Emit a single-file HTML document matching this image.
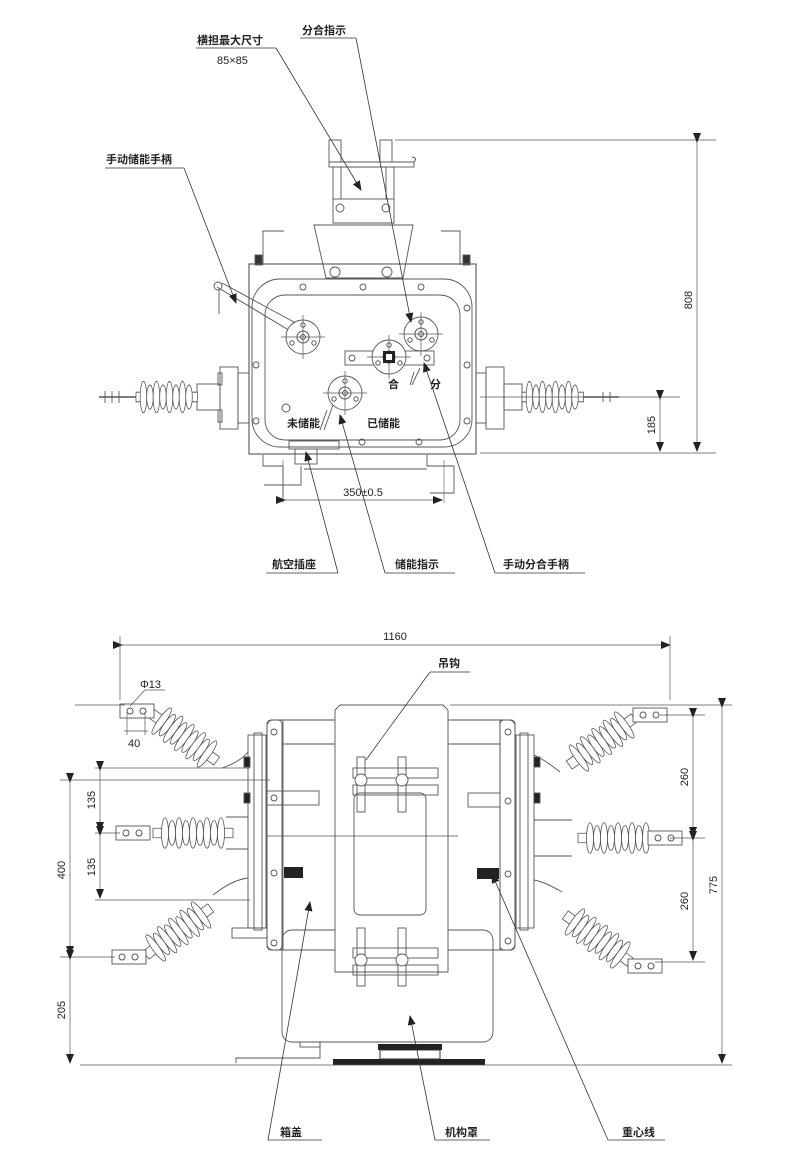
<!DOCTYPE html>
<html><head><meta charset="utf-8"><style>
html,body{margin:0;padding:0;background:#fff;}
svg{display:block;}
text{font-family:"Liberation Sans","Noto Sans CJK SC",sans-serif;fill:#222;font-size:11px;}
.cj{font-weight:bold;font-size:11px;}
</style></head><body>
<svg width="800" height="1163" viewBox="0 0 800 1163" xmlns="http://www.w3.org/2000/svg">
<defs>
<marker id="ar" markerWidth="10" markerHeight="8" refX="9" refY="4" orient="auto" markerUnits="userSpaceOnUse"><path d="M0,0 L10,4 L0,8z" fill="#222"/></marker>
<g id="ins">
<rect x="0" y="-4" width="66" height="8" fill="#fff" stroke="#555" stroke-width="0.8"/>
<ellipse cx="8" cy="0" rx="3.5" ry="13" fill="#fff" stroke="#555" stroke-width="0.8"/>
<ellipse cx="15" cy="0" rx="3.5" ry="10" fill="#fff" stroke="#555" stroke-width="0.8"/>
<ellipse cx="22" cy="0" rx="3.5" ry="13" fill="#fff" stroke="#555" stroke-width="0.8"/>
<ellipse cx="29" cy="0" rx="3.5" ry="10" fill="#fff" stroke="#555" stroke-width="0.8"/>
<ellipse cx="36" cy="0" rx="3.5" ry="13" fill="#fff" stroke="#555" stroke-width="0.8"/>
<ellipse cx="43" cy="0" rx="3.5" ry="10" fill="#fff" stroke="#555" stroke-width="0.8"/>
<ellipse cx="50" cy="0" rx="3.5" ry="13" fill="#fff" stroke="#555" stroke-width="0.8"/>
<ellipse cx="57" cy="0" rx="3.5" ry="10" fill="#fff" stroke="#555" stroke-width="0.8"/>
</g>
<g id="dins">
<rect x="0" y="-5" width="80" height="10" fill="#fff" stroke="#555" stroke-width="0.8"/>
<ellipse cx="12" cy="0" rx="3.5" ry="16" fill="#fff" stroke="#555" stroke-width="0.8"/>
<ellipse cx="19" cy="0" rx="3.5" ry="13" fill="#fff" stroke="#555" stroke-width="0.8"/>
<ellipse cx="26" cy="0" rx="3.5" ry="16" fill="#fff" stroke="#555" stroke-width="0.8"/>
<ellipse cx="33" cy="0" rx="3.5" ry="13" fill="#fff" stroke="#555" stroke-width="0.8"/>
<ellipse cx="40" cy="0" rx="3.5" ry="16" fill="#fff" stroke="#555" stroke-width="0.8"/>
<ellipse cx="47" cy="0" rx="3.5" ry="13" fill="#fff" stroke="#555" stroke-width="0.8"/>
<ellipse cx="54" cy="0" rx="3.5" ry="16" fill="#fff" stroke="#555" stroke-width="0.8"/>
<ellipse cx="61" cy="0" rx="3.5" ry="13" fill="#fff" stroke="#555" stroke-width="0.8"/>
<ellipse cx="68" cy="0" rx="3.5" ry="16" fill="#fff" stroke="#555" stroke-width="0.8"/>
</g>
<g id="term"><rect x="0" y="-7" width="34" height="14" fill="#fff" stroke="#555" stroke-width="0.9"/><circle cx="10" cy="0" r="3" fill="none" stroke="#555"/><circle cx="23" cy="0" r="3" fill="none" stroke="#555"/></g>
<g id="knob"><circle r="17" fill="#fff" stroke="#555" stroke-width="0.9"/><circle r="6" fill="none" stroke="#555"/><circle r="2.5" fill="none" stroke="#555"/><circle cx="0" cy="-12" r="2.2" fill="none" stroke="#555"/><circle cx="-11" cy="6" r="2.2" fill="none" stroke="#555"/><circle cx="11" cy="6" r="2.2" fill="none" stroke="#555"/><line x1="-22" y1="0" x2="22" y2="0" stroke="#555" stroke-width="0.7"/><line x1="0" y1="-22" x2="0" y2="22" stroke="#555" stroke-width="0.7"/></g>
</defs>

<g fill="none" stroke="#555" stroke-width="0.9">
<rect x="329" y="140" width="12" height="22"/><rect x="380" y="140" width="12" height="22"/>
<path d="M329,162 L414,162 Q418,158 412,157"/><rect x="329" y="162" width="85" height="5"/>
<rect x="333" y="167" width="61" height="32"/>
<line x1="341" y1="167" x2="341" y2="199"/><line x1="386" y1="167" x2="386" y2="199"/>
<circle cx="340" cy="208" r="4"/><circle cx="386" cy="208" r="4"/>
<path d="M333,199 L333,223 L394,223 L394,199"/>
<path d="M314,225 L413,225 L403,278 L326,278 Z"/>
<circle cx="335" cy="272" r="5"/><circle cx="387" cy="272" r="5"/>
<path d="M263,265 L263,231 L284,231"/><path d="M460,265 L460,231 L441,231"/>
<rect x="255" y="255" width="7" height="10" fill="#333"/><rect x="463" y="255" width="7" height="10" fill="#333"/>
<rect x="249" y="264" width="227" height="190" stroke-width="1.1"/>
<rect x="252" y="279" width="220" height="168" rx="28"/>
<rect x="265" y="295" width="195" height="145" rx="20"/>
<circle cx="303" cy="287" r="3"/><circle cx="363" cy="287" r="3"/><circle cx="421" cy="287" r="3"/>
<circle cx="467" cy="308" r="3"/><circle cx="256" cy="365" r="3"/><circle cx="467" cy="365" r="3"/>
<circle cx="256" cy="421" r="3"/><circle cx="467" cy="421" r="3"/><circle cx="286" cy="408" r="4"/>
<circle cx="362" cy="442" r="3"/><circle cx="419" cy="442" r="3"/>
<path d="M217,287 L297,335 L303,327 L222,283"/><circle cx="218" cy="286" r="4"/><line x1="219" y1="290" x2="219" y2="314"/>
<rect x="345" y="351" width="89" height="14" fill="#fff"/>
<circle cx="352" cy="358" r="3"/><circle cx="427" cy="358" r="3"/>
</g>
<use href="#knob" x="303" y="337"/>
<use href="#knob" x="421" y="334"/>
<use href="#knob" x="389" y="357"/>
<rect x="383" y="351" width="12" height="12" fill="#222"/><rect x="386" y="354" width="6" height="6" fill="#fff"/>
<use href="#knob" x="345" y="393"/>
<g fill="none" stroke="#555" stroke-width="0.9">
<path d="M327,410 L320,430 M333,405 L324,430"/><path d="M414,372 L410,385 M420,368 L412,385"/>
<rect x="220" y="367" width="18" height="62"/><rect x="238" y="373" width="11" height="50"/>
<rect x="218" y="373" width="4" height="12"/><rect x="218" y="410" width="4" height="12"/>
<rect x="197" y="384" width="23" height="26"/>
<line x1="99" y1="397" x2="136" y2="397" stroke-width="1.6"/>
<line x1="105" y1="391" x2="105" y2="403"/><line x1="112" y1="391" x2="112" y2="403"/><line x1="119" y1="391" x2="119" y2="403"/>
<rect x="486" y="367" width="18" height="62"/><rect x="476" y="373" width="10" height="50"/>
<rect x="504" y="384" width="18" height="26"/>
<line x1="583" y1="397" x2="619" y2="397" stroke-width="1.6"/>
<line x1="603" y1="392" x2="603" y2="402"/><line x1="610" y1="392" x2="610" y2="402"/>
<rect x="289" y="441" width="50" height="8"/><rect x="295" y="449" width="22" height="15"/>
<path d="M263,455 L263,466 L283,466 L283,497"/>
<path d="M264,485 L301,485 L301,466"/>
<path d="M427,455 L427,466 L454,466 L454,493 L430,493"/>
<line x1="304" y1="469" x2="427" y2="469"/>
<line x1="283" y1="460" x2="283" y2="503" stroke-width="0.6"/><line x1="444" y1="460" x2="444" y2="503" stroke-width="0.6"/>
</g>
<g transform="translate(136,397) scale(0.93,1.2)"><use href="#ins"/></g>
<g transform="translate(522,397) scale(0.93,1.2)"><use href="#ins"/></g>

<g stroke="#555" stroke-width="0.7" fill="none">
<line x1="395" y1="140" x2="716" y2="140"/><line x1="480" y1="397" x2="680" y2="397"/><line x1="480" y1="453" x2="716" y2="453"/>
<line x1="697" y1="142" x2="697" y2="451" marker-start="url(#ar)" marker-end="url(#ar)"/>
<line x1="660" y1="399" x2="660" y2="451" marker-start="url(#ar)" marker-end="url(#ar)"/>
<line x1="285" y1="500" x2="442" y2="500" marker-start="url(#ar)" marker-end="url(#ar)"/>
</g>
<text x="692" y="300" transform="rotate(-90 692 300)" text-anchor="middle">808</text>
<text x="655" y="425" transform="rotate(-90 655 425)" text-anchor="middle">185</text>
<text x="363" y="496" text-anchor="middle">350±0.5</text>

<g stroke="#333" stroke-width="0.8" fill="none">
<line x1="196" y1="48" x2="276" y2="48"/><line x1="276" y1="48" x2="361" y2="190" marker-end="url(#ar)"/>
<line x1="300" y1="38" x2="356" y2="38"/><line x1="356" y1="38" x2="411" y2="322" marker-end="url(#ar)"/>
<line x1="105" y1="168" x2="184" y2="168"/><line x1="184" y1="168" x2="236" y2="303" marker-end="url(#ar)"/>
<line x1="266" y1="573" x2="338" y2="573"/><line x1="338" y1="573" x2="306" y2="452" marker-end="url(#ar)"/>
<line x1="385" y1="573" x2="455" y2="573"/><line x1="385" y1="573" x2="340" y2="415" marker-end="url(#ar)"/>
<line x1="495" y1="573" x2="585" y2="573"/><line x1="495" y1="573" x2="424" y2="363" marker-end="url(#ar)"/>
</g>
<text class="cj" x="197" y="44">横担最大尺寸</text>
<text x="217" y="64">85×85</text>
<text class="cj" x="302" y="34">分合指示</text>
<text class="cj" x="106" y="163">手动储能手柄</text>
<text class="cj" x="388" y="388">合</text><text class="cj" x="430" y="388">分</text>
<text class="cj" x="287" y="427">未储能</text><text class="cj" x="367" y="427">已储能</text>
<text class="cj" x="272" y="568">航空插座</text>
<text class="cj" x="395" y="568">储能指示</text>
<text class="cj" x="503" y="568">手动分合手柄</text>

<!-- ===== BOTTOM VIEW ===== -->
<g fill="none" stroke="#555" stroke-width="0.9">
<rect x="282" y="930" width="211" height="112" rx="10"/>
<rect x="267" y="720" width="248" height="230" rx="6"/>
<line x1="283" y1="720" x2="283" y2="950"/><line x1="500" y1="720" x2="500" y2="950"/>
<line x1="283" y1="744" x2="335" y2="744"/><line x1="448" y1="744" x2="500" y2="744"/>
<path d="M335,972 L335,710 L340,705 L443,705 L448,710 L448,972 Z" fill="#fff"/>
<rect x="354" y="793" width="72" height="122" rx="6"/>
<rect x="353" y="768" width="85" height="10"/><rect x="353" y="785" width="85" height="10"/>
<rect x="357" y="757" width="8" height="55"/><rect x="398" y="757" width="8" height="55"/>
<circle cx="361" cy="780" r="6" fill="#fff"/><circle cx="402" cy="780" r="6" fill="#fff"/>
<rect x="353" y="948" width="85" height="10"/><rect x="353" y="965" width="85" height="10"/>
<rect x="357" y="928" width="8" height="58"/><rect x="398" y="928" width="8" height="58"/>
<circle cx="361" cy="960" r="6" fill="#fff"/><circle cx="402" cy="960" r="6" fill="#fff"/>
<rect x="267" y="720" width="15" height="230" rx="4"/><rect x="500" y="720" width="15" height="230" rx="4"/>
<circle cx="274" cy="732" r="3"/><circle cx="274" cy="798" r="3"/><circle cx="274" cy="873" r="3"/><circle cx="274" cy="943" r="3"/>
<circle cx="508" cy="732" r="3"/><circle cx="508" cy="801" r="3"/><circle cx="508" cy="874" r="3"/><circle cx="508" cy="941" r="3"/>
<rect x="267" y="791" width="52" height="14"/><rect x="468" y="793" width="32" height="14"/>
<rect x="232" y="928" width="35" height="10"/>
<rect x="248" y="735" width="18" height="193"/><rect x="254" y="733" width="8" height="197"/>
<rect x="244" y="757" width="6" height="10" fill="#222"/><rect x="244" y="793" width="6" height="10" fill="#222"/>
<rect x="516" y="735" width="18" height="193"/><rect x="520" y="733" width="8" height="197"/>
<rect x="534" y="757" width="6" height="10" fill="#222"/><rect x="534" y="793" width="6" height="10" fill="#222"/>
<path d="M226,817 L248,817 M226,849 L248,849"/>
<path d="M534,820 L572,820 M534,856 L572,856"/>
<path d="M222,768 Q240,762 248,752"/><path d="M213,895 Q232,880 248,878"/>
<path d="M560,772 Q545,760 534,755"/><path d="M562,892 Q545,882 534,880"/>
<rect x="300" y="1042" width="20" height="5"/>
<path d="M236,1063 L236,1058 L320,1058 L320,1042"/>
</g>
<rect x="284" y="867" width="19" height="11" fill="#222"/>
<rect x="477" y="868" width="22" height="11" fill="#222"/>
<rect x="333" y="1059" width="152" height="6" fill="#222"/>
<rect x="378" y="1044" width="34" height="6" fill="#222"/><rect x="410" y="1044" width="32" height="6" fill="#222"/>
<rect x="380" y="1050" width="60" height="9" fill="none" stroke="#333"/>

<g transform="translate(153,833) scale(1,0.95)"><use href="#dins"/></g>
<g transform="translate(578,838) scale(1,0.95)"><use href="#dins"/></g>
<g transform="translate(152,714) rotate(36)"><use href="#dins"/></g>
<g transform="translate(146,955) rotate(-36)"><use href="#dins"/></g>
<g transform="translate(634,718) rotate(144)"><use href="#dins"/></g>
<g transform="translate(630,962) rotate(216)"><use href="#dins"/></g>
<use href="#term" x="120" y="711"/>
<use href="#term" x="116" y="833"/>
<use href="#term" x="112" y="957"/>
<use href="#term" x="633" y="715"/>
<use href="#term" x="648" y="838"/>
<use href="#term" x="628" y="966"/>
<line x1="267" y1="836" x2="458" y2="836" stroke="#555" stroke-width="0.7"/>

<g stroke="#555" stroke-width="0.7" fill="none">
<line x1="122" y1="645" x2="670" y2="645" marker-start="url(#ar)" marker-end="url(#ar)"/>
<line x1="120" y1="636" x2="120" y2="700"/><line x1="670" y1="636" x2="670" y2="700"/>
<line x1="75" y1="705" x2="125" y2="705"/>
<line x1="450" y1="705" x2="732" y2="705"/><line x1="80" y1="1065" x2="732" y2="1065"/>
<line x1="722" y1="707" x2="722" y2="1063" marker-start="url(#ar)" marker-end="url(#ar)"/>
<line x1="660" y1="715" x2="705" y2="715"/><line x1="670" y1="838" x2="705" y2="838"/><line x1="655" y1="962" x2="705" y2="962"/>
<line x1="693" y1="717" x2="693" y2="836" marker-start="url(#ar)" marker-end="url(#ar)"/>
<line x1="693" y1="840" x2="693" y2="960" marker-start="url(#ar)" marker-end="url(#ar)"/>
<line x1="95" y1="768" x2="250" y2="768"/><line x1="60" y1="780" x2="270" y2="780"/>
<line x1="95" y1="833" x2="120" y2="833"/><line x1="95" y1="900" x2="250" y2="900"/>
<line x1="60" y1="957" x2="115" y2="957"/>
<line x1="100" y1="770" x2="100" y2="831" marker-start="url(#ar)" marker-end="url(#ar)"/>
<line x1="100" y1="835" x2="100" y2="898" marker-start="url(#ar)" marker-end="url(#ar)"/>
<line x1="70" y1="782" x2="70" y2="955" marker-start="url(#ar)" marker-end="url(#ar)"/>
<line x1="70" y1="959" x2="70" y2="1063" marker-start="url(#ar)" marker-end="url(#ar)"/>
<path d="M130,706 L145,690 L165,690"/>
<line x1="127" y1="712" x2="127" y2="735"/><line x1="145" y1="712" x2="145" y2="735"/><line x1="124" y1="731" x2="148" y2="731"/>
</g>
<text x="395" y="640" text-anchor="middle">1160</text>
<text x="140" y="688">Φ13</text>
<text x="128" y="747">40</text>
<text x="688" y="777" transform="rotate(-90 688 777)" text-anchor="middle">260</text>
<text x="688" y="901" transform="rotate(-90 688 901)" text-anchor="middle">260</text>
<text x="717" y="885" transform="rotate(-90 717 885)" text-anchor="middle">775</text>
<text x="95" y="800" transform="rotate(-90 95 800)" text-anchor="middle">135</text>
<text x="95" y="867" transform="rotate(-90 95 867)" text-anchor="middle">135</text>
<text x="65" y="870" transform="rotate(-90 65 870)" text-anchor="middle">400</text>
<text x="65" y="1010" transform="rotate(-90 65 1010)" text-anchor="middle">205</text>

<g stroke="#333" stroke-width="0.8" fill="none">
<line x1="430" y1="672" x2="470" y2="672"/><line x1="430" y1="672" x2="366" y2="760"/>
<line x1="268" y1="1140" x2="322" y2="1140"/><line x1="268" y1="1140" x2="310" y2="902" marker-end="url(#ar)"/>
<line x1="435" y1="1140" x2="490" y2="1140"/><line x1="435" y1="1140" x2="410" y2="1016" marker-end="url(#ar)"/>
<line x1="608" y1="1140" x2="665" y2="1140"/><line x1="608" y1="1140" x2="492" y2="874" marker-end="url(#ar)"/>
</g>
<text class="cj" x="438" y="667">吊钩</text>
<text class="cj" x="280" y="1136">箱盖</text>
<text class="cj" x="445" y="1136">机构罩</text>
<text class="cj" x="622" y="1136">重心线</text>
</svg>
</body></html>
